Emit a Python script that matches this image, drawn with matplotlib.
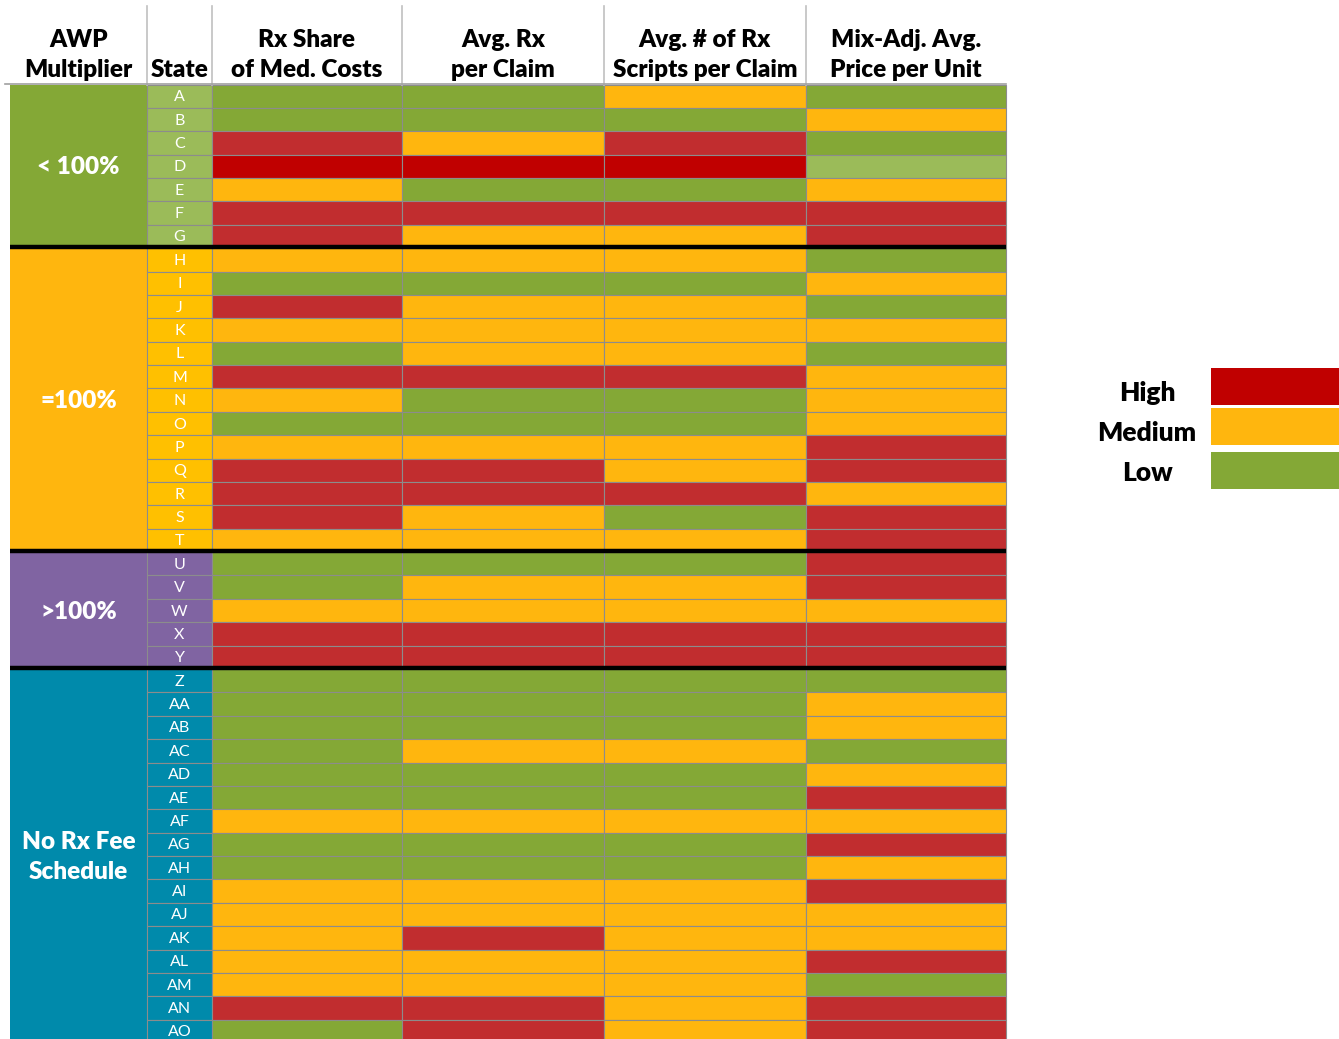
import matplotlib
matplotlib.use("Agg")
import matplotlib.pyplot as plt
import numpy as np

plt.rcParams['font.family'] = ['Lato', 'DejaVu Sans']

# data
states = ["A", "B", "C", "D", "E", "F", "G",
          "H", "I", "J", "K", "L", "M", "N", "O", "P", "Q", "R", "S", "T",
          "U", "V", "W", "X", "Y",
          "Z", "AA", "AB", "AC", "AD", "AE", "AF", "AG", "AH", "AI", "AJ",
          "AK", "AL", "AM", "AN", "AO"]
groups = ["< 100%", "=100%", ">100%", "No Rx Fee\nSchedule"]
group_sizes = [7, 13, 5, 16]
metrics = ["Rx Share\nof Med. Costs", "Avg. Rx\nper Claim",
           "Avg. # of Rx\nScripts per Claim", "Mix-Adj. Avg.\nPrice per Unit"]
rx_share = list("LLHHMHH" "MLHMLHMLMHHHM" "LLMHH" "LLLLLLMLLMMMMMHL")
avg_rx = list("LLMHLHM" "MLMMMHLLMHHMM" "LMMHH" "LLLMLLMLLMMHMMHH")
avg_scripts = list("MLHHLHM" "MLMMMHLLMMHLM" "LMMHH" "LLLMLLMLLMMMMMMM")
mix_price = list("LMLLMHH" "LMLMLMMMHHMHH" "HHMHH" "LMMLMHMHMHMMHLHH")
highlight_state = "D"
legend_labels = ["High", "Medium", "Low"]

level_colors = {"H": "#c12d2f", "M": "#ffb60e", "L": "#84a836"}
highlight_colors = {"H": "#c00000", "M": "#ffb60e", "L": "#9bbb59"}
group_colors = ["#84a836", "#ffb60e", "#8064a2", "#008aab"]
state_colors = ["#9bbb59", "#ffc000", "#8064a2", "#008aab"]
legend_colors = ["#c00000", "#ffb60e", "#84a836"]

W, H = 1339, 1039
fig = plt.figure(figsize=(W / 100, H / 100), dpi=100)
ax = fig.add_axes([0, 0, 1, 1])
ax.set_xlim(0, W)
ax.set_ylim(H, 0)
ax.axis("off")

# layout
col_edges = [10, 147, 212, 402, 604, 806, 1006]
top = 84.5
rh = 23.38
n = len(states)
yc = top + (np.arange(n) + 0.5) * rh
grid = "#8c8c8c"

group_idx = np.repeat(np.arange(len(groups)), group_sizes)
starts = np.concatenate([[0], np.cumsum(group_sizes)[:-1]])

# group column
ax.barh(top + (starts + np.array(group_sizes) / 2) * rh, col_edges[1] - col_edges[0],
        height=np.array(group_sizes) * rh, left=col_edges[0], color=group_colors,
        edgecolor="none", zorder=1)
for g, label in enumerate(groups):
    ax.text((col_edges[0] + col_edges[1]) / 2, top + (starts[g] + group_sizes[g] / 2) * rh + 1,
            label, color="white", fontsize=17.5, fontweight="heavy",
            ha="center", va="center", linespacing=1.45, zorder=5)

# state column
ax.barh(yc, col_edges[2] - col_edges[1], height=rh, left=col_edges[1],
        color=[state_colors[g] for g in group_idx], edgecolor=grid, linewidth=0.8, zorder=2)
for i, s in enumerate(states):
    ax.text((col_edges[1] + col_edges[2]) / 2, yc[i] + 1, s, color="white", fontsize=11.5,
            ha="center", va="center", zorder=5)

# metric columns
for j, vals in enumerate([rx_share, avg_rx, avg_scripts, mix_price]):
    cols = [highlight_colors[v] if states[i] == highlight_state else level_colors[v]
            for i, v in enumerate(vals)]
    ax.barh(yc, col_edges[j + 3] - col_edges[j + 2], height=rh, left=col_edges[j + 2],
            color=cols, edgecolor=grid, linewidth=0.8, zorder=2)

# group separators
for s in starts[1:]:
    ax.plot([col_edges[0], col_edges[-1]], [top + s * rh - 1] * 2, color="black",
            linewidth=3.2, solid_capstyle="butt", zorder=4)

# header
headers = ["AWP\nMultiplier", "State"] + metrics
for j, h in enumerate(headers):
    ax.text((col_edges[j] + col_edges[j + 1]) / 2, 81, h, fontsize=17.5, fontweight="heavy",
            ha="center", va="bottom", linespacing=1.45, zorder=5)
for x in col_edges[1:-1]:
    ax.plot([x, x], [6, top], color="#c0c0c0", linewidth=1.2, zorder=3)
ax.plot([5, col_edges[-1]], [top - 0.5, top - 0.5], color="#a0a0a0", linewidth=1.2, zorder=3)

# legend
leg_y = [386, 426, 470]
leg_text_y = [401, 441, 481]
for k, lab in enumerate(legend_labels):
    ax.barh(leg_y[k], 128, height=37, left=1211, color=legend_colors[k], zorder=2)
    ax.text(1147, leg_text_y[k], lab, fontsize=19, fontweight="heavy",
            ha="center", va="baseline", zorder=5)

fig.savefig("out.png", dpi=100)
